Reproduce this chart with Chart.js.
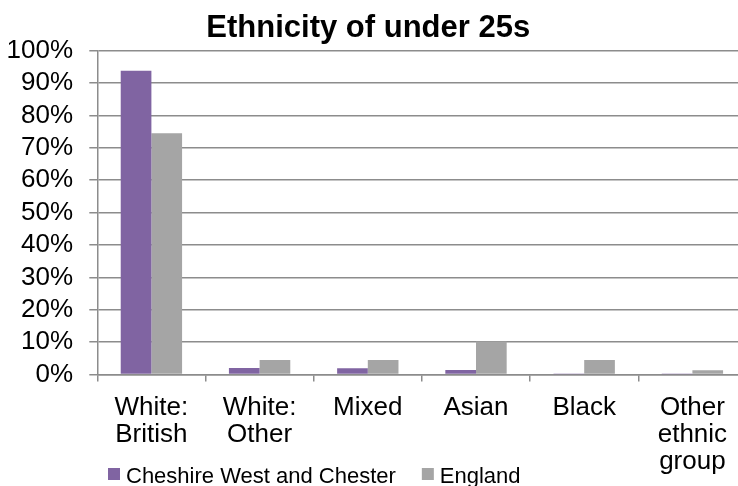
<!DOCTYPE html>
<html>
<head>
<meta charset="utf-8">
<script src="https://cdn.jsdelivr.net/npm/chart.js@4/dist/chart.umd.min.js"></script>
<style>
  html, body { margin: 0; padding: 0; background: #ffffff; overflow: hidden; }
  #wrap { position: relative; width: 738px; height: 486px; overflow: hidden; background: #fff; }
  #box { position: absolute; left: -10px; top: 0; width: 762px; height: 486px; }
</style>
</head>
<body>
<div id="wrap"><div id="box"><canvas id="c"></canvas></div></div>
<script>
const categories = [['White:', 'British'], ['White:', 'Other'], 'Mixed', 'Asian', 'Black', ['Other', 'ethnic', 'group']];
const seriesNames = ['Cheshire West and Chester', 'England'];
const cheshireValues = [93.8, 2.0, 1.9, 1.4, 0.1, 0.1];
const englandValues = [74.5, 4.5, 4.5, 10.2, 4.5, 1.3];
const yTickValues = [0, 10, 20, 30, 40, 50, 60, 70, 80, 90, 100];
const yTickLabels = ['0%', '10%', '20%', '30%', '40%', '50%', '60%', '70%', '80%', '90%', '100%'];
const chartTitle = 'Ethnicity of under 25s';

const gridColor = '#8c8c8c';
const fontFamily = "'Liberation Sans', Arial, sans-serif";
Chart.defaults.font.family = fontFamily;
Chart.defaults.color = '#000000';

// Legend drawn at the bottom-left, overlapping the label area like the original
const bottomLegend = {
  id: 'bottomLegend',
  afterDraw(chart, args, opts) {
    const ctx = chart.ctx;
    ctx.save();
    ctx.font = opts.fontSize + 'px ' + fontFamily;
    ctx.textBaseline = 'alphabetic';
    ctx.textAlign = 'left';
    let x = opts.x;
    chart.data.datasets.forEach((ds) => {
      ctx.fillStyle = ds.backgroundColor;
      ctx.fillRect(x, opts.baseline - opts.box - 2.7, opts.box, opts.box);
      const tx = x + opts.box + opts.textGap;
      ctx.fillStyle = '#000';
      ctx.fillText(ds.label, tx, opts.baseline);
      x = tx + ctx.measureText(ds.label).width + opts.itemGap;
    });
    ctx.restore();
  }
};

new Chart(document.getElementById('c'), {
  type: 'bar',
  data: {
    labels: categories,
    datasets: [
      { label: seriesNames[0], data: cheshireValues, backgroundColor: '#8064A2', borderWidth: 0 },
      { label: seriesNames[1], data: englandValues, backgroundColor: '#A5A5A5', borderWidth: 0 }
    ]
  },
  plugins: [bottomLegend],
  options: {
    responsive: true,
    maintainAspectRatio: false,
    animation: false,
    layout: { padding: { left: 0, right: 5.5, top: 0, bottom: 0 } },
    datasets: { bar: { categoryPercentage: 0.567, barPercentage: 1.0 } },
    plugins: {
      title: {
        display: true,
        text: chartTitle,
        color: '#000',
        font: { size: 31, weight: 'bold', lineHeight: 1.2 },
        padding: { top: 10.0, bottom: 3.5 }
      },
      legend: { display: false },
      bottomLegend: { x: 118, baseline: 482.7, box: 12, textGap: 6, itemGap: 26, fontSize: 22 },
      tooltip: { enabled: false }
    },
    scales: {
      x: {
        grid: { display: true, drawOnChartArea: false, drawTicks: true, tickLength: 7, color: gridColor, lineWidth: 1.5 },
        border: { display: true, color: gridColor, width: 1.5 },
        ticks: { color: '#000', font: { size: 26, lineHeight: 1.04 }, padding: 13, maxRotation: 0, autoSkip: false },
        afterFit: (s) => { s.height = 111.5; }
      },
      y: {
        min: 0,
        max: 100,
        grid: { color: gridColor, lineWidth: 1.5, drawTicks: true, tickLength: 8 },
        border: { display: true, color: gridColor, width: 1.5 },
        ticks: {
          stepSize: 10,
          autoSkip: false,
          color: '#000',
          font: { size: 26 },
          padding: 16.3,
          callback: (v) => { const i = yTickValues.indexOf(v); return i >= 0 ? yTickLabels[i] : ''; }
        },
        afterFit: (s) => { s.width = 107.3; }
      }
    }
  }
});
</script>
</body>
</html>
